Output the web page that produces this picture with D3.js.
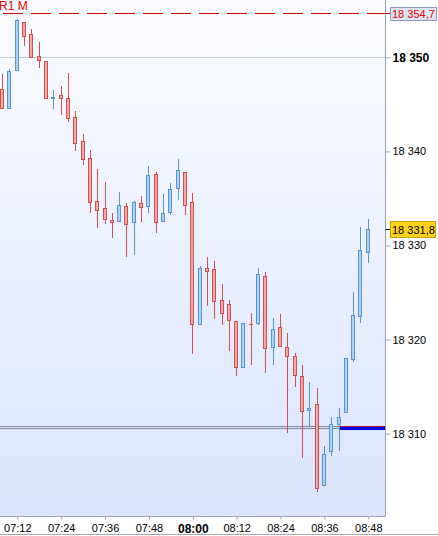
<!DOCTYPE html>
<html><head><meta charset="utf-8">
<script src="https://cdnjs.cloudflare.com/ajax/libs/d3/7.8.5/d3.min.js"></script>
<style>html,body{margin:0;padding:0;background:#fff;overflow:hidden} svg{display:block;font-family:"Liberation Sans",Arial,sans-serif;}</style>
</head><body><svg id="c" width="438" height="536"></svg>
<script>
// ---- data ----
const times = ["07:08","07:10","07:12","07:14","07:16","07:18","07:20","07:22","07:24","07:26",
  "07:28","07:30","07:32","07:34","07:36","07:38","07:40","07:42","07:44","07:46",
  "07:48","07:50","07:52","07:54","07:56","07:58","08:00","08:02","08:04","08:06",
  "08:08","08:10","08:12","08:14","08:16","08:18","08:20","08:22","08:24","08:26",
  "08:28","08:30","08:32","08:34","08:36","08:38","08:40","08:42","08:44","08:46","08:48"];
const openP = [18346.6,18344.6,18348.7,18353.8,18352.5,18350.1,18349.6,18345.7,18346.0,18345.65,
  18343.7,18341.1,18339.3,18334.7,18334.0,18332.75,18332.6,18334.2,18332.5,18334.5,
  18334.2,18337.6,18332.6,18333.6,18336.1,18337.8,18334.65,18321.7,18327.6,18327.5,
  18324.2,18323.8,18322.0,18317.1,18321.7,18321.8,18326.8,18319.25,18321.3,18319.25,
  18318.3,18316.1,18312.5,18313.1,18304.5,18308.1,18311.0,18312.25,18317.9,18322.5,18329.3];
const highP = [18348.2,18348.8,18354.1,18353.8,18353.0,18351.6,18349.6,18346.5,18346.9,18348.3,
  18344.3,18341.9,18340.1,18338.1,18336.7,18333.5,18335.7,18334.5,18334.75,18335.3,
  18338.4,18337.8,18335.5,18336.6,18339.2,18337.8,18335.6,18327.8,18328.8,18328.3,
  18325.85,18324.2,18322.0,18321.8,18322.8,18327.55,18327.2,18322.3,18322.75,18320.65,
  18318.6,18317.3,18315.5,18314.8,18308.7,18311.75,18312.7,18318.0,18325.0,18332.0,18332.8];
const lowP = [18344.5,18344.5,18348.55,18351.2,18350.0,18348.9,18345.6,18344.5,18343.9,18343.1,
  18340.0,18338.6,18333.4,18331.9,18332.3,18330.8,18332.6,18328.75,18328.96,18332.5,
  18333.5,18331.3,18332.5,18333.25,18334.8,18333.25,18318.5,18321.5,18323.55,18322.2,
  18321.5,18318.8,18316.1,18317.1,18317.3,18321.5,18316.45,18317.3,18319.3,18310.1,
  18315.0,18307.4,18310.8,18303.8,18304.45,18307.65,18308.2,18312.2,18317.6,18321.8,18328.1];
const closeP = [18344.6,18348.5,18354.0,18352.3,18350.0,18349.7,18345.7,18345.8,18345.7,18343.6,
  18340.9,18339.2,18334.6,18333.8,18332.8,18332.5,18334.3,18332.3,18334.6,18334.1,
  18337.5,18332.5,18333.5,18336.0,18338.0,18334.3,18321.7,18327.6,18327.3,18324.1,
  18322.85,18322.1,18317.1,18321.8,18321.6,18327.0,18319.1,18321.15,18319.35,18318.3,
  18316.2,18312.35,18312.7,18304.25,18307.8,18311.0,18311.8,18318.0,18322.65,18329.5,18331.8];
const yTicks = [18310, 18320, 18330, 18340, 18350];
const yBoldTick = 18350;
const xTickLabels = ["07:12","07:24","07:36","07:48","08:00","08:12","08:24","08:36","08:48"];
const xBoldTick = "08:00";
const r1Level = 18354.7, r1Label = "R1 M";
const lastPrice = 18331.8;
const refLevels = [18310.76, 18310.55];
const bidLevel = 18310.5, bidStart = "08:40";

// ---- layout ----
const W = 438, H = 536, plotR = 385.5, plotB = 516.5;
const parse = d3.timeParse("%H:%M");
const x = d3.scaleTime().domain([parse("07:12"), parse("08:48")]).range([17.3, 368.3]);
const y = d3.scaleLinear().domain([18310, 18350]).range([433.6, 57.3]);
const loc = d3.formatLocale({decimal: ",", thousands: "\u00a0", grouping: [3], currency: ["", ""]});
const f0 = loc.format(",.0f"), f1 = loc.format(",.1f");
const snap = v => Math.round(v) + 0.5;

const svg = d3.select("#c");
const defs = svg.append("defs");
const grad = defs.append("linearGradient").attr("id", "bg").attr("x1", 0).attr("y1", 0).attr("x2", 0).attr("y2", 1);
grad.append("stop").attr("offset", "0%").attr("stop-color", "#fbfcff");
grad.append("stop").attr("offset", "100%").attr("stop-color", "#d9e4fe");
const clip = defs.append("clipPath").attr("id", "plot");
clip.append("rect").attr("x", 0).attr("y", 0).attr("width", plotR).attr("height", plotB);

svg.append("rect").attr("x", 0).attr("y", 0).attr("width", plotR).attr("height", plotB).attr("fill", "url(#bg)");

const g = svg.append("g").attr("clip-path", "url(#plot)");

// grid line at bold tick
g.append("line").attr("x1", 0).attr("x2", plotR).attr("y1", snap(y(yBoldTick))).attr("y2", snap(y(yBoldTick)))
  .attr("stroke", "#c6cbd8").attr("stroke-width", 1);

// reference double lines
refLevels.forEach(v => {
  g.append("line").attr("x1", 0).attr("x2", plotR).attr("y1", snap(y(v))).attr("y2", snap(y(v)))
    .attr("stroke", "#7f8796").attr("stroke-width", 1);
});
// bid line
const bx = x(parse(bidStart));
g.append("line").attr("x1", bx).attr("x2", plotR).attr("y1", snap(y(refLevels[0]))).attr("y2", snap(y(refLevels[0])))
  .attr("stroke", "#9a1c2c").attr("stroke-width", 1);
g.append("line").attr("x1", bx).attr("x2", plotR).attr("y1", snap(y(refLevels[0])) + 2).attr("y2", snap(y(refLevels[0])) + 2)
  .attr("stroke", "#0000ee").attr("stroke-width", 3);

// R1 dashed line
g.append("line").attr("x1", 3).attr("x2", plotR).attr("y1", snap(y(r1Level))).attr("y2", snap(y(r1Level)))
  .attr("stroke", "#d50000").attr("stroke-width", 1).attr("stroke-dasharray", "20,8");
svg.append("text").attr("x", -1).attr("y", 10).attr("fill", "#e00000").attr("font-size", 12).text(r1Label);

// candles
const data = times.map((t, i) => ({t: parse(t), o: openP[i], h: highP[i], l: lowP[i], c: closeP[i]}));
const cg = g.selectAll("g.candle").data(data).join("g").attr("class", "candle");
const up = d => d.c >= d.o;
cg.append("line")
  .attr("x1", d => Math.floor(x(d.t)) + 0.5).attr("x2", d => Math.floor(x(d.t)) + 0.5)
  .attr("y1", d => Math.round(y(d.h))).attr("y2", d => Math.round(y(d.l)))
  .attr("stroke", d => up(d) ? "#5a93cd" : "#cc5252").attr("stroke-width", 1);
cg.append("rect")
  .attr("x", d => Math.floor(x(d.t)) - 1.5)
  .attr("width", 3)
  .attr("y", d => snap(y(Math.max(d.o, d.c))))
  .attr("height", d => Math.max(0.01, Math.round(y(Math.min(d.o, d.c))) - Math.round(y(Math.max(d.o, d.c)))))
  .attr("fill", d => up(d) ? "#a9d4f6" : "#f6a6a6")
  .attr("stroke", d => up(d) ? "#5a93cd" : "#cc5252").attr("stroke-width", 1);

// right axis
const yAxis = d3.axisRight(y).tickValues(yTicks).tickSize(5).tickPadding(2).tickFormat(f0);
const ya = svg.append("g").attr("transform", `translate(${plotR},0)`).call(yAxis);
ya.select(".domain").remove();
ya.selectAll(".tick line").attr("stroke", "#97a2b0");
ya.selectAll(".tick text").attr("fill", "#000").attr("font-size", d => d === yBoldTick ? 12 : 11)
  .attr("font-weight", d => d === yBoldTick ? "bold" : "normal")
  .attr("font-family", '"Liberation Sans",Arial,sans-serif');

// bottom axis
const xAxis = d3.axisBottom(x).tickValues(xTickLabels.map(parse)).tickSize(3).tickPadding(5).tickFormat(d3.timeFormat("%H:%M"));
const xa = svg.append("g").attr("transform", `translate(0,${plotB})`).call(xAxis);
xa.select(".domain").remove();
xa.selectAll(".tick line").attr("stroke", "#97a2b0");
xa.selectAll(".tick text").attr("fill", "#000")
  .attr("font-size", d => d3.timeFormat("%H:%M")(d) === xBoldTick ? 12 : 11)
  .attr("font-weight", d => d3.timeFormat("%H:%M")(d) === xBoldTick ? "bold" : "normal")
  .attr("font-family", '"Liberation Sans",Arial,sans-serif');

// frame lines
svg.append("line").attr("x1", plotR).attr("x2", plotR).attr("y1", 0).attr("y2", plotB).attr("stroke", "#97a2b0");
svg.append("line").attr("x1", 0).attr("x2", plotR).attr("y1", plotB).attr("y2", plotB).attr("stroke", "#97a2b0");
svg.append("line").attr("x1", 0).attr("x2", W).attr("y1", 534.5).attr("y2", 534.5).attr("stroke", "#a4a8ae");

// R1 label box
const ry = snap(y(r1Level));
svg.append("line").attr("x1", plotR).attr("x2", 390).attr("y1", ry).attr("y2", ry).attr("stroke", "#d50000");
svg.append("rect").attr("x", 390.5).attr("y", ry - 6).attr("width", 46).attr("height", 13)
  .attr("fill", "#dfe5f3").attr("stroke", "#8f9cb8");
svg.append("text").attr("x", 392).attr("y", ry + 4).attr("fill", "#ee0000").attr("font-size", 11).text(f1(r1Level));

// last price box
const ly = snap(y(lastPrice));
svg.append("line").attr("x1", plotR).attr("x2", 390).attr("y1", ly).attr("y2", ly).attr("stroke", "#000");
svg.append("rect").attr("x", 390.5).attr("y", ly - 8).attr("width", 45).attr("height", 16)
  .attr("fill", "#ffd21a").attr("stroke", "#c8a200");
svg.append("text").attr("x", 392).attr("y", ly + 4).attr("fill", "#000").attr("font-size", 11).text(f1(lastPrice));
</script></body></html>
